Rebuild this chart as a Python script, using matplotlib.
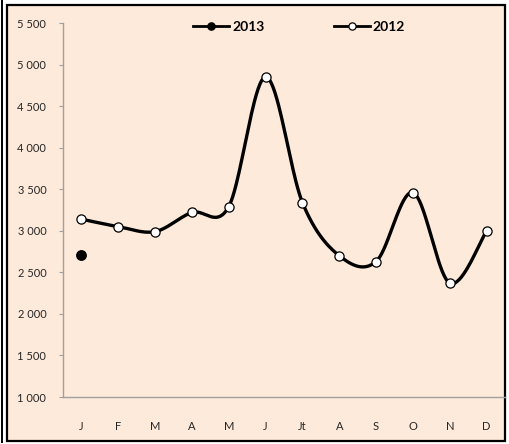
import numpy as np
import matplotlib
matplotlib.use('Agg')
import matplotlib.pyplot as plt
from matplotlib.lines import Line2D
from matplotlib.patches import Rectangle
from matplotlib.ticker import FuncFormatter, FixedLocator

plt.rcParams['font.family'] = ['Lato', 'DejaVu Sans']

months = ['J', 'F', 'M', 'A', 'M', 'J', 'Jt', 'A', 'S', 'O', 'N', 'D']
values_2012 = [3140, 3050, 2990, 3220, 3290, 4850, 3340, 2700, 2630, 3460, 2370, 3000]
values_2013 = [2710]
y_ticks = [1000, 1500, 2000, 2500, 3000, 3500, 4000, 4500, 5000, 5500]

BG = '#FDEADA'
AXIS = '#A0A0A0'
TXT = '#262626'


def smooth(xs, ys, n=40):
    """Excel-like smoothed line: Catmull-Rom Bezier through the data points."""
    pts = np.column_stack([xs, ys]).astype(float)
    out = [pts[0]]
    for i in range(len(pts) - 1):
        p0 = pts[max(i - 1, 0)]
        p1 = pts[i]
        p2 = pts[i + 1]
        p3 = pts[min(i + 2, len(pts) - 1)]
        c1 = p1 + (p2 - p0) / 6.0
        c2 = p2 - (p3 - p1) / 6.0
        t = np.linspace(0, 1, n)[1:, None]
        seg = (1 - t) ** 3 * p1 + 3 * (1 - t) ** 2 * t * c1 + 3 * (1 - t) * t ** 2 * c2 + t ** 3 * p2
        out.extend(seg)
    return np.array(out)


W, H = 509, 444
fig = plt.figure(figsize=(W / 100, H / 100), dpi=100)
fig.patch.set_facecolor('white')

# chart border
fig.add_artist(Rectangle((7 / W, 3 / H), 498 / W, 436 / H, transform=fig.transFigure,
                         facecolor=BG, edgecolor='black', linewidth=1.6, zorder=-10))
fig.add_artist(Line2D([1.5 / W, 1.5 / W], [2 / H, 1], transform=fig.transFigure,
                      color='black', linewidth=1.4, zorder=-10))

ax = fig.add_axes([63 / W, 47 / H, 442 / W, 374 / H])
ax.set_facecolor('none')
ax.set_zorder(1)

x = np.arange(len(months))
curve = smooth(x, values_2012)
ax.plot(curve[:, 0], curve[:, 1], color='black', linewidth=2.4, solid_capstyle='round', zorder=3)
ax.plot(x, values_2012, linestyle='none', marker='o', markersize=6.6,
        markerfacecolor='white', markeredgecolor='black', markeredgewidth=0.9, zorder=4)
ax.plot(x[:len(values_2013)], values_2013, linestyle='none', marker='o', markersize=6.8,
        markerfacecolor='black', markeredgecolor='black', zorder=4)

ax.set_xlim(-0.5, len(months) - 0.5)
ax.set_ylim(y_ticks[0], y_ticks[-1])
ax.yaxis.set_major_locator(FixedLocator(y_ticks))
ax.yaxis.set_major_formatter(FuncFormatter(lambda v, p: f'{int(v):,}'.replace(',', ' ')))
ax.set_xticks(x)
ax.set_xticklabels(months)

for s in ['top', 'right']:
    ax.spines[s].set_visible(False)
for s in ['left', 'bottom']:
    ax.spines[s].set_color(AXIS)
    ax.spines[s].set_linewidth(1.0)

ax.tick_params(axis='y', direction='out', length=3, width=0.8, color=AXIS,
               labelsize=8, labelcolor=TXT, pad=9)
ax.tick_params(axis='x', length=0, labelsize=8, labelcolor=TXT, pad=17.5)

h2013 = Line2D([], [], color='black', linewidth=2.0, marker='o', markersize=5.2,
               markerfacecolor='black', markeredgecolor='black')
h2012 = Line2D([], [], color='black', linewidth=2.0, marker='o', markersize=5.2,
               markerfacecolor='white', markeredgecolor='black', markeredgewidth=0.9)
leg = ax.legend([h2013, h2012], ['2013', '2012'], loc='center', bbox_to_anchor=(0.534, 0.99),
                ncol=2, frameon=False, handlelength=2.6, handletextpad=0.2,
                columnspacing=5.0, prop={'weight': 'bold', 'size': 10})
for t in leg.get_texts():
    t.set_color('black')

fig.savefig('out.png', dpi=100, facecolor=fig.get_facecolor())
